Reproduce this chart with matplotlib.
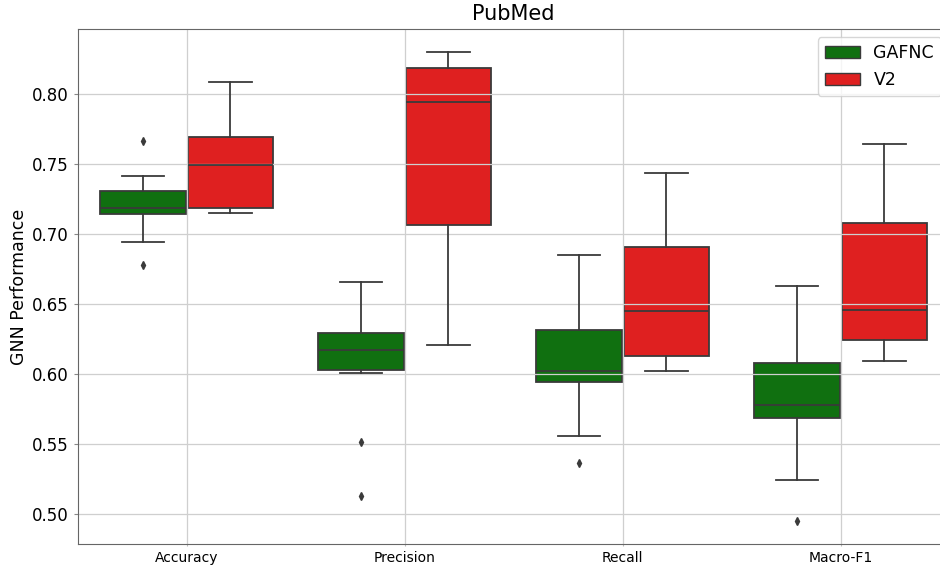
# PubMed box plot, GAFNC vs V2 over four metrics
import numpy as np
from matplotlib import pyplot as plt
from matplotlib.patches import Patch

metrics = ["Accuracy", "Precision", "Recall", "Macro-F1"]
models = ["GAFNC", "V2"]
colors = ["#107010", "#df2020"]

# box summaries, one entry per metric
gafnc_whislo = [0.6947, 0.6009, 0.5561, 0.5243]
gafnc_q1 = [0.7145, 0.6031, 0.5947, 0.5690]
gafnc_med = [0.7190, 0.6174, 0.6026, 0.5783]
gafnc_q3 = [0.7311, 0.6297, 0.6316, 0.6079]
gafnc_whishi = [0.7416, 0.6661, 0.6852, 0.6633]
gafnc_fliers = [[0.7669, 0.6783], [0.5516, 0.5134], [0.5369], [0.4952]]

v2_whislo = [0.7154, 0.6209, 0.6024, 0.6093]
v2_q1 = [0.7190, 0.7069, 0.6131, 0.6243]
v2_med = [0.7495, 0.7947, 0.6454, 0.6459]
v2_q3 = [0.7697, 0.8188, 0.6909, 0.7083]
v2_whishi = [0.8090, 0.8304, 0.7440, 0.7647]
v2_fliers = [[], [], [], []]


def make_stats(whislo, q1, med, q3, whishi, fliers):
    return [dict(whislo=a, q1=b, med=c, q3=d, whishi=e, fliers=f)
            for a, b, c, d, e, f in zip(whislo, q1, med, q3, whishi, fliers)]


stats = [make_stats(gafnc_whislo, gafnc_q1, gafnc_med, gafnc_q3, gafnc_whishi, gafnc_fliers),
         make_stats(v2_whislo, v2_q1, v2_med, v2_q3, v2_whishi, v2_fliers)]

fig = plt.figure(figsize=(9.4, 5.67), dpi=100)
# the original was cropped on the right, so the axes runs past the figure edge
ax = fig.add_axes([77.7 / 940, 1 - 544.3 / 567, 872 / 940, (544.3 - 28.7) / 567])

line_color = "#3a3a3a"
x = np.arange(len(metrics))
for i, (st, c) in enumerate(zip(stats, colors)):
    pos = x + (i - 0.5) * 0.4
    bp = ax.bxp(st, positions=pos, widths=0.392, patch_artist=True, manage_ticks=False,
                boxprops=dict(facecolor=c, edgecolor=line_color, linewidth=1.3),
                medianprops=dict(color=line_color, linewidth=1.3),
                whiskerprops=dict(color=line_color, linewidth=1.3),
                capprops=dict(color=line_color, linewidth=1.3),
                flierprops=dict(marker="d", markersize=4, markerfacecolor=line_color,
                                markeredgecolor=line_color))
    for b in bp["boxes"]:
        b.set_zorder(1)

ax.set_xticks(x)
ax.set_xticklabels(metrics, fontsize=10)
ax.set_xlim(-0.5, 3.5)
ax.set_ylim(0.4786, 0.8469)
ax.set_yticks([0.50, 0.55, 0.60, 0.65, 0.70, 0.75, 0.80])
ax.tick_params(axis="y", labelsize=12, length=3, color="#888888")
ax.tick_params(axis="x", length=1.5, pad=3, color="#bbbbbb")
ax.grid(True, color="#cfcfcf", linewidth=0.9)
for s in ax.spines.values():
    s.set_color("#666666")

ax.set_ylabel("GNN Performance", fontsize=12.5, labelpad=2.5)
ax.set_title("PubMed", fontsize=15)

handles = [Patch(facecolor=c, edgecolor=line_color, label=m) for m, c in zip(models, colors)]
ax.legend(handles=handles, loc="upper right", fontsize=12.5)

plt.savefig("out.png", dpi=100)
